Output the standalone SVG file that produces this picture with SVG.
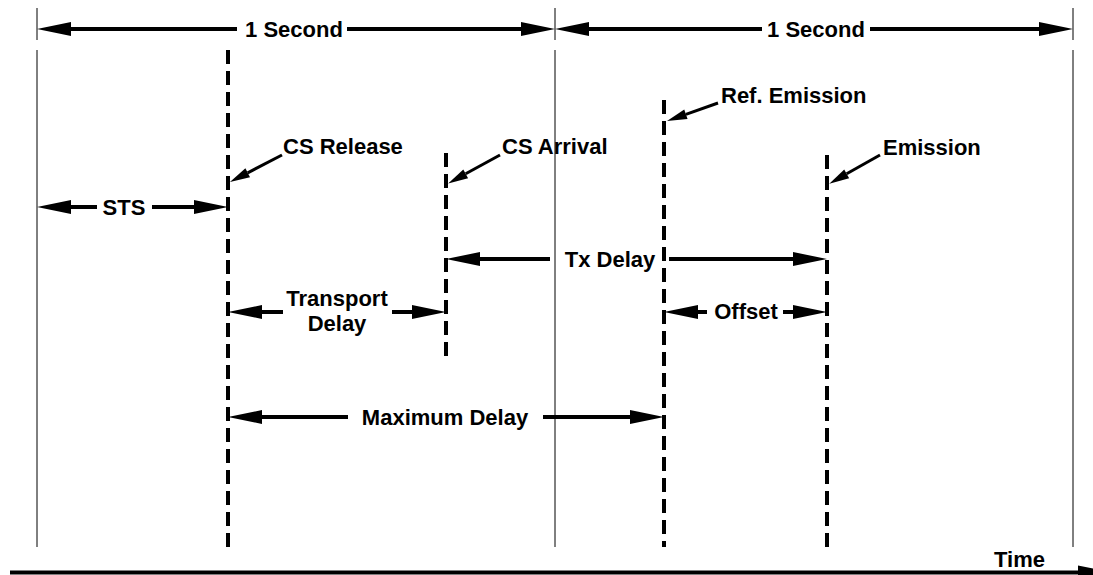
<svg xmlns="http://www.w3.org/2000/svg" width="1093" height="575" viewBox="0 0 1093 575">
<defs>
<style>
.grid{stroke:#000;stroke-width:1;fill:none}
.evt{stroke:#000;stroke-width:4;stroke-dasharray:14 7;fill:none}
.dim{stroke:#000;stroke-width:4;fill:none;marker-end:url(#ah)}
.dims{stroke:#000;stroke-width:4;fill:none;marker-start:url(#ah)}
.ptr{stroke:#000;stroke-width:3;fill:none;marker-end:url(#ph)}
text{font-family:"Liberation Sans",Arial,sans-serif;font-weight:bold;font-size:22px;fill:#000}
.c{text-anchor:middle}
</style>
<marker id="ah" markerUnits="userSpaceOnUse" markerWidth="36" markerHeight="16" refX="0" refY="7" orient="auto-start-reverse" overflow="visible"><path d="M0,0 L34,7 L0,14 z" fill="#000"/></marker>
<marker id="ph" markerUnits="userSpaceOnUse" markerWidth="22" markerHeight="12" refX="0" refY="5" orient="auto" overflow="visible"><path d="M0,0 L20,5 L0,10 z" fill="#000"/></marker>
</defs>
<rect width="1093" height="575" fill="#fff"/>
<g id="grid-lines">
<path class="grid" d="M37,8V40M37,50V547M555,8V40M555,50V547M1073,8V40M1073,50V547"/>
</g>
<g id="cs-release"><line class="evt" x1="228" y1="50" x2="228" y2="547"/><text x="283" y="154">CS Release</text></g>
<g id="cs-arrival"><line class="evt" x1="446" y1="153" x2="446" y2="362"/><text x="502" y="154">CS Arrival</text></g>
<g id="ref-emission"><line class="evt" x1="664" y1="100" x2="664" y2="547"/><text x="721" y="103">Ref. Emission</text></g>
<g id="emission"><line class="evt" x1="827" y1="155" x2="827" y2="547"/><text x="883" y="155">Emission</text></g>
<g id="labels">
<text class="c" x="294" y="37">1 Second</text>
<text class="c" x="816" y="37">1 Second</text>
<text class="c" x="124" y="215">STS</text>
<text class="c" x="337" y="306">Transport</text>
<text class="c" x="337" y="331">Delay</text>
<text class="c" x="610" y="267">Tx Delay</text>
<text class="c" x="746" y="319">Offset</text>
<text class="c" x="445" y="425">Maximum Delay</text>
<text x="994" y="567">Time</text>
</g>
<g id="connectors">
<line class="dims" x1="71" y1="29" x2="237" y2="29"/>
<line class="dim" x1="347" y1="29" x2="521" y2="29"/>
<line class="dims" x1="589" y1="29" x2="762" y2="29"/>
<line class="dim" x1="870" y1="29" x2="1039" y2="29"/>
<line class="dims" x1="71" y1="207" x2="97" y2="207"/>
<line class="dim" x1="152" y1="207" x2="194" y2="207"/>
<line class="dims" x1="262" y1="312" x2="283" y2="312"/>
<line class="dim" x1="392" y1="312" x2="412" y2="312"/>
<line class="dims" x1="480" y1="259" x2="550" y2="259"/>
<line class="dim" x1="669" y1="259" x2="793" y2="259"/>
<line class="dims" x1="698" y1="312" x2="707" y2="312"/>
<line class="dim" x1="783" y1="312" x2="793" y2="312"/>
<line class="dims" x1="262" y1="417" x2="348" y2="417"/>
<line class="dim" x1="543" y1="417" x2="630" y2="417"/>
<line class="ptr" x1="282" y1="155" x2="247.7" y2="172.8"/>
<line class="ptr" x1="500" y1="155" x2="465.7" y2="173.8"/>
<line class="ptr" x1="718" y1="103" x2="685.9" y2="114.3"/>
<line class="ptr" x1="880" y1="155" x2="846.7" y2="173.8"/>
<line class="dim" x1="10" y1="572.5" x2="1078" y2="572.5"/>
</g>
</svg>
